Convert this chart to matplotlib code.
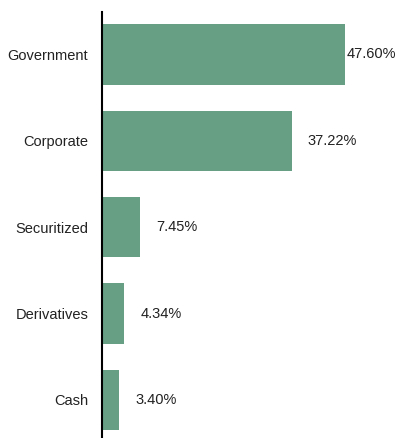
import matplotlib
matplotlib.use("Agg")
import matplotlib.pyplot as plt

categories = ["Government", "Corporate", "Securitized", "Derivatives", "Cash"]
values = [47.60, 37.22, 7.45, 4.34, 3.40]
labels = ["47.60%", "37.22%", "7.45%", "4.34%", "3.40%"]

plt.rcParams["font.family"] = ["Liberation Sans", "DejaVu Sans"]

fig = plt.figure(figsize=(4.01, 4.38), dpi=100)
ax = fig.add_axes([0.2544, 0.0, 0.7456, 0.9726])

pos = list(range(len(categories)))
ax.barh(pos, values, height=0.7, color="#679f85")

for p, v, lab in zip(pos, values, labels):
    # biggest bar leaves no room to the right, so its label hugs the bar
    pad = 1.5 if v == max(values) else 11.5
    ax.annotate(lab, (v, p), xytext=(pad, 0), textcoords="offset points",
                va="center", ha="left", fontsize=10.5, color="#222222")

ax.set_xlim(0, 58.6)
ax.set_ylim(4.44, -0.49)
ax.set_yticks(pos)
ax.set_yticklabels(categories, fontsize=10.5, color="#222222")
ax.tick_params(axis="y", length=0, pad=10)
ax.set_xticks([])
for s in ["top", "right", "bottom"]:
    ax.spines[s].set_visible(False)
ax.spines["left"].set_linewidth(1.5)
ax.spines["left"].set_color("black")

fig.savefig("out.png", dpi=100)
